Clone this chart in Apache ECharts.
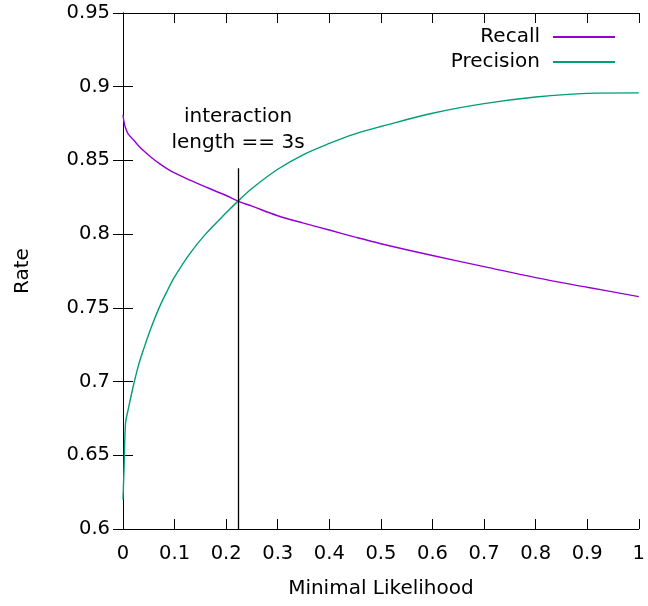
<!DOCTYPE html>
<html>
<head>
    <meta charset="utf-8">
    <title>Rate vs Minimal Likelihood</title>
    <script src="https://cdn.jsdelivr.net/npm/echarts@6/dist/echarts.min.js"></script>
    <style>
        html, body { margin: 0; padding: 0; background: #fff; }
        #chart { width: 648px; height: 606px; }
    </style>
</head>
<body>
<div id="chart"></div>
<script>
    // values
    const likelihood = [0, 0.002, 0.005, 0.01, 0.02, 0.03, 0.04, 0.055, 0.07, 0.085, 0.1, 0.13, 0.16, 0.2, 0.223, 0.25, 0.3, 0.35, 0.4, 0.45, 0.5, 0.6, 0.7, 0.8, 0.9, 1.0];
    const recall = [0.881, 0.876, 0.872, 0.868, 0.864, 0.860, 0.8565, 0.852, 0.848, 0.8445, 0.8415, 0.8366, 0.832, 0.8262, 0.8224, 0.819, 0.8125, 0.8075, 0.8028, 0.798, 0.7935, 0.7855, 0.778, 0.7705, 0.764, 0.7576];
    const precision = [0.620, 0.641, 0.672, 0.681, 0.697, 0.711, 0.722, 0.737, 0.750, 0.761, 0.771, 0.787, 0.800, 0.8145, 0.8224, 0.831, 0.844, 0.854, 0.8615, 0.868, 0.873, 0.882, 0.8885, 0.893, 0.8955, 0.8958];
    const markerX = 0.223;
    const markerTop = 0.8447;
    const markerText = 'interaction\nlength == 3s';

    const font = 'DejaVu Sans';
    const axisColor = '#000';

    function pairs(xs, ys) {
        return xs.map(function (x, i) { return [x, ys[i]]; });
    }

    const chart = echarts.init(document.getElementById('chart'));

    const legendText = { fontFamily: font, fontSize: 20, color: '#000', padding: [0, 8, 0, 0] };

    const option = {
        backgroundColor: '#fff',
        animation: false,
        textStyle: { fontFamily: font },
        grid: { left: 123, right: 8, top: 13, bottom: 77 },
        legend: [{
            data: ['Recall'],
            right: 28, top: 22,
            align: 'right',
            itemWidth: 62, itemHeight: 2,
            icon: 'rect',
            textStyle: legendText
        }, {
            data: ['Precision'],
            right: 28, top: 47,
            align: 'right',
            itemWidth: 62, itemHeight: 2,
            icon: 'rect',
            textStyle: legendText
        }],
        xAxis: [{
            type: 'value', min: 0, max: 1, interval: 0.1,
            name: 'Minimal Likelihood', nameLocation: 'middle', nameGap: 50,
            nameTextStyle: { fontFamily: font, fontSize: 20, color: '#000' },
            axisLine: { show: true, lineStyle: { color: axisColor } },
            axisTick: { inside: true, length: 10, lineStyle: { color: axisColor } },
            axisLabel: { fontFamily: font, fontSize: 19.5, color: '#000', margin: 15 },
            splitLine: { show: false }
        }, {
            type: 'value', min: 0, max: 1, interval: 0.1, position: 'top',
            axisLine: { show: true, lineStyle: { color: axisColor } },
            axisTick: { inside: true, length: 10, lineStyle: { color: axisColor } },
            axisLabel: { show: false },
            splitLine: { show: false }
        }],
        yAxis: [{
            type: 'value', min: 0.6, max: 0.95, interval: 0.05,
            name: 'Rate', nameLocation: 'middle', nameGap: 90, nameRotate: 90,
            nameTextStyle: { fontFamily: font, fontSize: 20, color: '#000' },
            axisLine: { show: true, lineStyle: { color: axisColor } },
            axisTick: { inside: true, length: 10, lineStyle: { color: axisColor } },
            axisLabel: { fontFamily: font, fontSize: 19.5, color: '#000', margin: 13 },
            splitLine: { show: false }
        }, {
            type: 'value', min: 0.6, max: 0.95, interval: 0.05, position: 'right',
            axisLine: { show: true, lineStyle: { color: axisColor } },
            axisTick: { inside: true, length: 10, lineStyle: { color: axisColor } },
            axisLabel: { show: false },
            splitLine: { show: false }
        }],
        series: [{
            name: 'Recall',
            type: 'line',
            data: pairs(likelihood, recall),
            showSymbol: false,
            smooth: 0.35,
            color: '#9400d3',
            lineStyle: { width: 1.4, color: '#9400d3' }
        }, {
            name: 'Precision',
            type: 'line',
            data: pairs(likelihood, precision),
            showSymbol: false,
            smooth: 0.35,
            color: '#009e73',
            lineStyle: { width: 1.4, color: '#009e73' },
            markLine: {
                silent: true,
                symbol: 'none',
                lineStyle: { color: '#000', width: 1.3, type: 'solid' },
                label: {
                    show: true,
                    position: 'end',
                    formatter: markerText,
                    fontFamily: font,
                    fontSize: 20,
                    lineHeight: 26,
                    color: '#000',
                    distance: 12
                },
                data: [[
                    { coord: [markerX, 0.6] },
                    { coord: [markerX, markerTop] }
                ]]
            }
        }]
    };

    chart.setOption(option);
</script>
</body>
</html>
